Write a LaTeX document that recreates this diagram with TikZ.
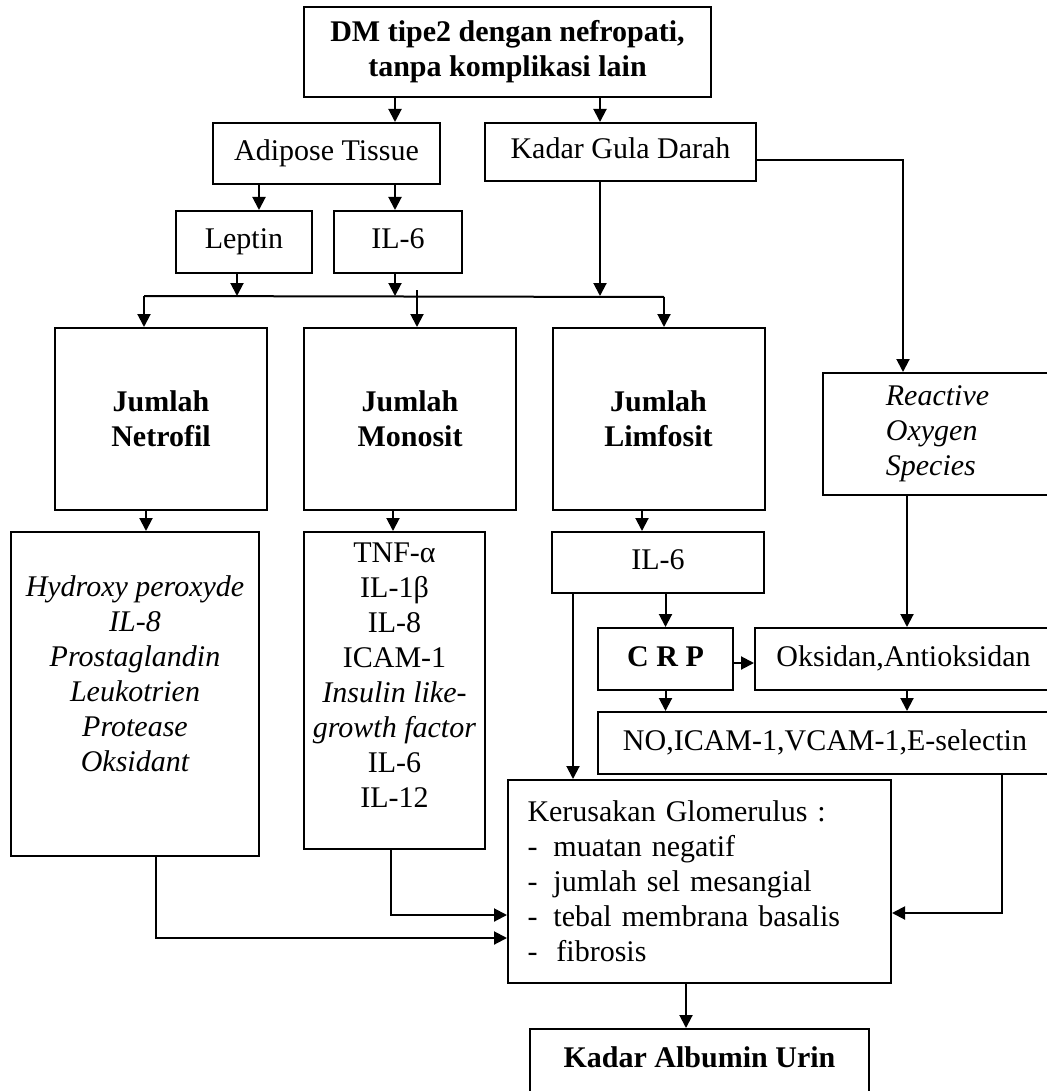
\documentclass[tikz,border=0pt]{standalone}
\usepackage{fontspec}
\setmainfont{Liberation Serif}
\usetikzlibrary{arrows.meta}
\newcommand{\diagfont}{\fontsize{15pt}{17.5pt}\selectfont}
\newcommand{\dstrut}[1]{\rule[-#1]{0pt}{#1}}

\begin{document}
\begin{tikzpicture}[x=0.5pt,y=-0.5pt,
    font=\diagfont,
    box/.style={draw,line width=1pt,inner sep=0pt,align=center},
    one/.style={text height=10.5pt,text depth=3.5pt},
    bold/.style={font=\diagfont\bfseries},
    ital/.style={font=\diagfont\itshape},
    arr/.style={-{Triangle[length=6.5pt,width=6.5pt]},line width=1pt},
    ln/.style={line width=1pt}]
  \useasboundingbox (0,0) rectangle (1047,1091);
  \clip (0,0) rectangle (1047,1091);

  \node[box,bold,minimum width=203.5pt,minimum height=45pt] (top) at (507.5,52)
    {DM tipe2 dengan nefropati,\\tanpa komplikasi lain};
  \node[box,one,minimum width=113.5pt,minimum height=30.5pt] (adipose) at (326.5,153.5) {Adipose Tissue};
  \node[box,one,minimum width=135.5pt,minimum height=29pt] (gula) at (620.5,152) {Kadar Gula Darah};
  \node[box,one,minimum width=68pt,minimum height=31pt] (leptin) at (244,242) {Leptin};
  \node[box,one,minimum width=64pt,minimum height=31pt] (ilsixa) at (398,242) {IL-6};
  \foreach \n/\x/\t in {netrofil/161/Netrofil, monosit/410/Monosit, limfosit/658.5/Limfosit}{
    \node[box,bold,minimum width=106pt,minimum height=91pt] (\n) at (\x,419) {Jumlah\\\t};
  }
  \node[box,ital,align=left,minimum width=114.5pt,minimum height=61pt] (ros) at (937.5,434)
    {Reactive\\Oxygen\\Species};
  \node[box,ital,minimum width=124pt,minimum height=162pt] (netdet) at (135,694)
    {Hydroxy peroxyde\\IL-8\\Prostaglandin\\Leukotrien\\Protease\\Oksidant\dstrut{20pt}};
  \node[box,minimum width=90.5pt,minimum height=158.5pt] (mondet) at (394.5,690.5)
    {TNF-α\\IL-1β\\IL-8\\ICAM-1\\\textit{Insulin like-}\\\textit{growth factor}\\IL-6\\IL-12\dstrut{15pt}};
  \node[box,one,minimum width=106pt,minimum height=30.5pt] (ilsixb) at (658,562.5) {IL-6};
  \node[box,bold,one,minimum width=67.5pt,minimum height=31pt] (crp) at (665.5,659) {C R P};
  \node[box,one,minimum width=148.5pt,minimum height=31pt] (oks) at (903.5,659) {Oksidan,Antioksidan};
  \node[box,one,minimum width=227pt,minimum height=31pt] (no) at (825,743) {NO,ICAM-1,VCAM-1,E-selectin};
  \node[box,inner xsep=9.75pt,text width=172pt,align=left,minimum height=101.5pt] (kerus) at (699.5,881.5)
    {Kerusakan Glomerulus :\\-~\hspace{3pt}muatan negatif\\-~\hspace{3pt}jumlah sel mesangial\\
     -~\hspace{3pt}tebal membrana basalis\\-~\hspace{4.5pt}fibrosis};
  \node[box,bold,minimum width=169.5pt,minimum height=35.5pt] (albumin) at (699.5,1064.5)
    {Kadar Albumin Urin\dstrut{7pt}};

  \coordinate (busL) at (144,296);
  \coordinate (busR) at (664,297);

  \draw[arr] (top.south -| 395,0) -- (adipose.north -| 395,0);
  \draw[arr] (top.south -| 600,0) -- (gula.north -| 600,0);
  \draw[arr] (adipose.south -| 259,0) -- (leptin.north -| 259,0);
  \draw[arr] (adipose.south -| 395,0) -- (ilsixa.north -| 395,0);
  \draw[arr] (leptin.south -| 237,0) -- (237,296);
  \draw[arr] (ilsixa.south -| 395,0) -- (395,296);
  \draw[arr] (gula.south -| 600,0) -- (600,296);
  \draw[ln] (busL) -- (busR);
  \draw[arr] (busL) -- (netrofil.north -| busL);
  \draw[arr] (417,290) -- (monosit.north -| 417,0);
  \draw[arr] (busR) -- (limfosit.north -| busR);
  \draw[arr] ([yshift=-4pt]gula.east) -| (ros.north -| 903,0);
  \draw[arr] (netrofil.south -| 146,0) -- (netdet.north -| 146,0);
  \draw[arr] (monosit.south -| 393,0) -- (mondet.north -| 393,0);
  \draw[arr] (limfosit.south -| 642,0) -- (ilsixb.north -| 642,0);
  \draw[arr] (ilsixb.south -| crp) -- (crp.north);
  \draw[arr] (ilsixb.south -| 573,0) -- (kerus.north -| 573,0);
  \draw[arr] (crp.east |- 0,663) -- (oks.west |- 0,663);
  \draw[arr] (ros.south -| 907,0) -- (oks.north -| 907,0);
  \draw[arr] (crp.south) -- (no.north -| crp);
  \draw[arr] (oks.south -| 907,0) -- (no.north -| 907,0);
  \draw[arr] (no.south -| 1002,0) |- (kerus.east |- 0,913);
  \draw[arr] (mondet.south -| 391,0) |- (kerus.west |- 0,915);
  \draw[arr] (netdet.south -| 156,0) |- (kerus.west |- 0,938);
  \draw[arr] (kerus.south -| 686,0) -- (albumin.north -| 686,0);
\end{tikzpicture}
\end{document}
